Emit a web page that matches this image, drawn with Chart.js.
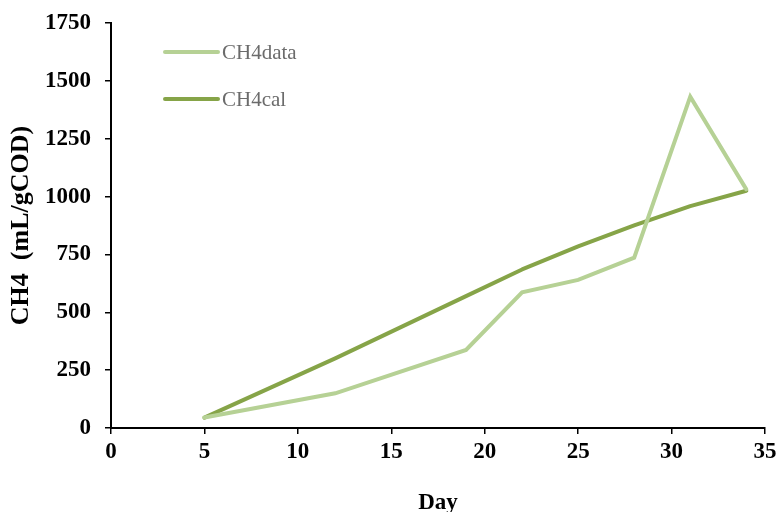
<!DOCTYPE html>
<html>
<head>
<meta charset="utf-8">
<script src="https://cdn.jsdelivr.net/npm/chart.js@4.4.1/dist/chart.umd.min.js"></script>
<style>
  html, body { margin: 0; padding: 0; background: #fff; }
  #wrap { width: 776px; height: 512px; }
</style>
</head>
<body>
<div id="wrap"><canvas id="c" width="776" height="512"></canvas></div>
<script>
// Sampling days and methane yields (mL/gCOD)
const days = [5, 12, 19, 22, 25, 28, 31, 34];
const ch4Data = [45, 150, 337, 586, 640, 736, 1432, 1031];
const ch4Cal = [45, 301, 570, 685, 785, 876, 959, 1025];
const seriesNames = ['CH4data', 'CH4cal'];
const xTitle = 'Day';
const yTitle = 'CH4  (mL/gCOD)';

const toPoints = (xs, ys) => xs.map((x, i) => ({ x: x, y: ys[i] }));

const serif = '"Liberation Serif", "Times New Roman", serif';

// Legend drawn inside the plot area, top-left, as line samples with labels
const innerLegend = {
  id: 'innerLegend',
  afterDatasetsDraw(chart) {
    const { ctx, chartArea } = chart;
    const x0 = chartArea.left + 54;
    const len = 53;
    const rows = [chartArea.top + 29, chartArea.top + 76];
    ctx.save();
    chart.data.datasets.forEach((ds, i) => {
      const y = rows[i];
      ctx.strokeStyle = ds.borderColor;
      ctx.lineWidth = 4;
      ctx.lineCap = 'round';
      ctx.beginPath();
      ctx.moveTo(x0, y);
      ctx.lineTo(x0 + len, y);
      ctx.stroke();
      ctx.fillStyle = '#6b6b6b';
      ctx.font = '21px ' + serif;
      ctx.textBaseline = 'middle';
      ctx.textAlign = 'left';
      ctx.fillText(ds.label, x0 + len + 4, y + 1);
    });
    ctx.restore();
  }
};

// Keep the plot area fixed regardless of how far edge labels overhang
const fixEdges = (scale) => {
  scale.paddingLeft = 0;
  scale.paddingRight = 0;
  scale.paddingTop = 0;
  scale.paddingBottom = 0;
};

new Chart(document.getElementById('c'), {
  type: 'scatter',
  data: {
    datasets: [
      {
        label: seriesNames[0],
        data: toPoints(days, ch4Data),
        showLine: true,
        borderColor: '#B6D195',
        borderWidth: 4,
        pointRadius: 0,
        borderCapStyle: 'round',
        borderJoinStyle: 'miter',
        tension: 0
      },
      {
        label: seriesNames[1],
        data: toPoints(days, ch4Cal),
        showLine: true,
        borderColor: '#86A448',
        borderWidth: 4,
        pointRadius: 0,
        borderCapStyle: 'round',
        borderJoinStyle: 'round',
        tension: 0
      }
    ]
  },
  options: {
    responsive: false,
    animation: false,
    layout: { padding: { left: 0, right: 11, top: 23, bottom: 0 } },
    plugins: {
      legend: { display: false },
      tooltip: { enabled: false }
    },
    scales: {
      x: {
        type: 'linear',
        min: 0,
        max: 35,
        ticks: {
          stepSize: 5,
          color: '#000',
          padding: 4,
          font: { family: serif, size: 23, weight: 'bold' },
          callback: (v) => String(v)
        },
        grid: { drawOnChartArea: false, color: '#000', tickLength: 6, lineWidth: 1.5 },
        border: { color: '#000', width: 2 },
        title: {
          display: true,
          text: xTitle,
          color: '#000',
          padding: { top: 0, bottom: -5 },
          font: { family: serif, size: 23, weight: 'bold' }
        },
        afterFit(scale) { scale.height = 84; fixEdges(scale); }
      },
      y: {
        type: 'linear',
        min: 0,
        max: 1750,
        ticks: {
          stepSize: 250,
          color: '#000',
          padding: 14,
          font: { family: serif, size: 23, weight: 'bold' },
          callback: (v) => String(v)
        },
        grid: { drawOnChartArea: false, color: '#000', tickLength: 6, lineWidth: 1.5 },
        border: { color: '#000', width: 2 },
        title: {
          display: true,
          text: yTitle,
          color: '#000',
          padding: { top: 6, bottom: 0 },
          font: { family: serif, size: 26, weight: 'bold' }
        },
        afterFit(scale) { scale.width = 111; fixEdges(scale); }
      }
    }
  },
  plugins: [innerLegend]
});
</script>
</body>
</html>
